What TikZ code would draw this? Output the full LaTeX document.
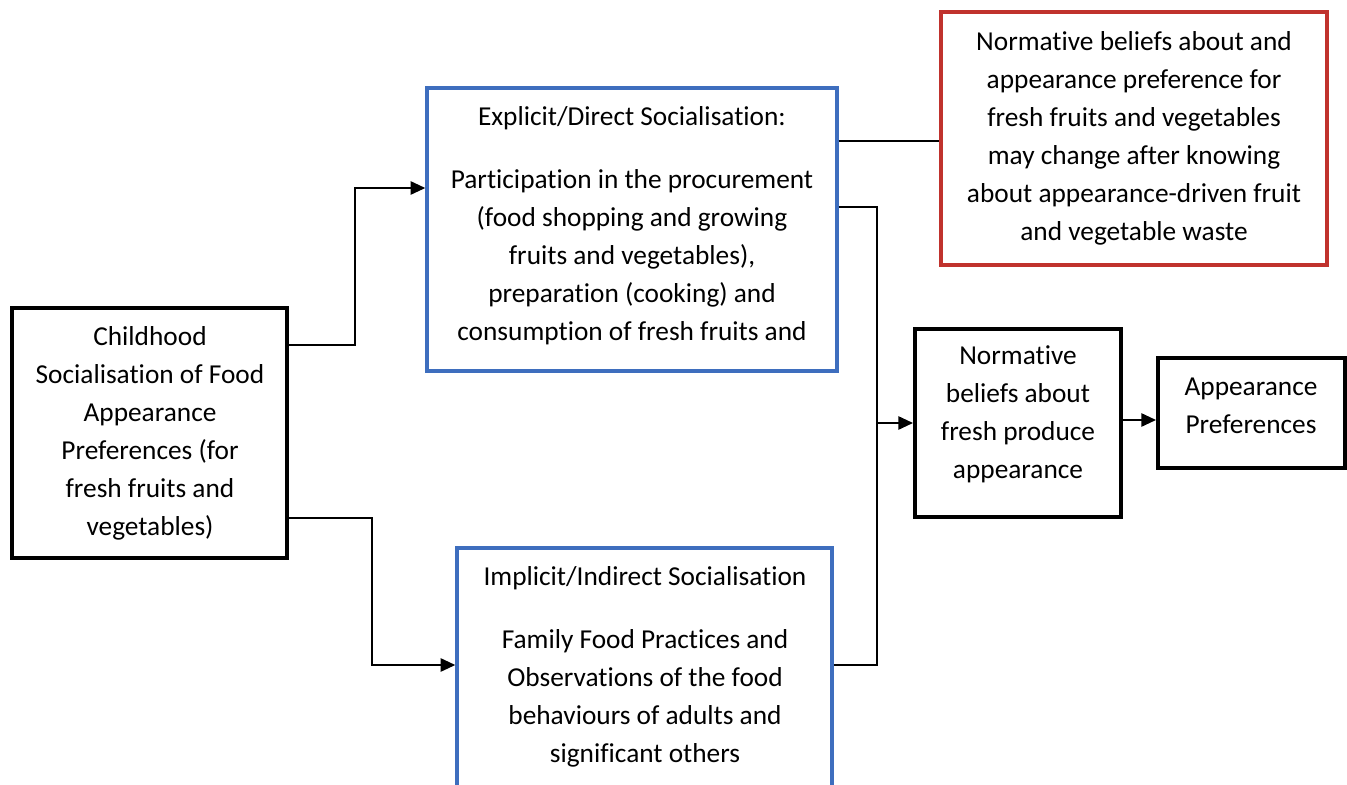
\documentclass[tikz,border=0pt]{standalone}
\usepackage{fontspec}
\setmainfont{Carlito}[Ligatures=NoCommon]
\usetikzlibrary{fit,arrows.meta}
\definecolor{boxblue}{RGB}{62,110,190}
\definecolor{boxred}{RGB}{192,50,45}
\begin{document}
\begin{tikzpicture}[x=0.75pt,y=-0.75pt,
  blk/.style={draw=black, line width=3pt, inner sep=0pt},
  blu/.style={draw=boxblue, line width=2.6pt, inner sep=0pt},
  redb/.style={draw=boxred, line width=2.6pt, inner sep=0pt},
  txt/.style={align=center, inner sep=0pt, font=\fontsize{20.5}{28.5}\selectfont},
  conn/.style={line width=1.3pt},
  arr/.style={conn,-{Triangle[length=11pt,width=10pt]}}]
\useasboundingbox[fill=white] (0,0) rectangle (1347,785);
% boxes
\node[blk, fit={(12,308)(287,558)}] (child) {};
\node[blu, fit={(427,88)(837,371)}] (expl) {};
\node[blu, fit={(457,548)(832,820)}] (impl) {};
\node[redb, fit={(941,12)(1327,265)}] (red) {};
\node[blk, fit={(915,329)(1121,517)}] (norm) {};
\node[blk, fit={(1158,358)(1345,468)}] (app) {};
% texts
\node[txt] (tchild) at (150,433) {Childhood\\Socialisation of Food\\Appearance\\Preferences (for\\fresh fruits and\\vegetables)};
\node[txt] (texpl1) at (632,118) {Explicit/Direct Socialisation:};
\node[txt] (texpl2) at (632,257.5) {Participation in the procurement\\(food shopping and growing\\fruits and vegetables),\\preparation (cooking) and\\consumption of fresh fruits and};
\node[txt] (timpl1) at (645,578) {Implicit/Indirect Socialisation};
\node[txt] (timpl2) at (645,698) {Family Food Practices and\\Observations of the food\\behaviours of adults and\\significant others};
\node[txt] (tred) at (1134,138.5) {Normative beliefs about and\\appearance preference for\\fresh fruits and vegetables\\may change after knowing\\about appearance-driven fruit\\and vegetable waste};
\node[txt] (tnorm) at (1018,414) {Normative\\beliefs about\\fresh produce\\appearance};
\node[txt] (tapp) at (1251,405.5) {Appearance\\Preferences};
% connector coordinates
\coordinate (c1) at (355,345);
\coordinate (e1) at (355,188);
\coordinate (c2) at (372,518);
\coordinate (i1) at (372,665);
\coordinate (r1) at (877,141);
\coordinate (j1) at (877,207);
\coordinate (j2) at (877,665);
\coordinate (j3) at (877,423);
% connectors
\draw[arr] (child.east |- c1) -- (c1) -- (e1) -- (expl.west |- e1);
\draw[arr] (child.east |- c2) -- (c2) -- (i1) -- (impl.west |- i1);
\draw[conn] (expl.east |- r1) -- (red.west |- r1);
\draw[conn] (expl.east |- j1) -- (j1) -- (j2) -- (impl.east |- j2);
\draw[arr] (j3) -- (norm.west |- j3);
\draw[arr] (norm.east |- 0,420) -- (app.west |- 0,420);
\end{tikzpicture}
\end{document}
